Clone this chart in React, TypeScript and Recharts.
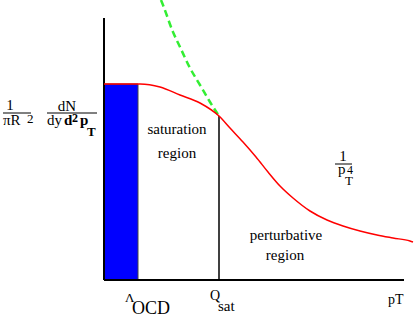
import { LineChart, Line, XAxis, YAxis, ReferenceLine, ReferenceArea } from "recharts";

// spectrum curve (x in plot units, y in plot units)
const spectrumX = [0, 16, 36, 56, 76, 96, 115, 126, 139, 152, 164, 176, 189, 206, 223, 239, 256, 273, 289, 306, 309];
const spectrumY = [196, 196, 196, 193, 185, 177, 164, 152, 138, 123, 108, 94, 82, 69, 60, 54, 49, 45, 42, 39, 38];

// 1/p_T^4 extrapolation
const powerX = [57, 59, 69, 76, 86, 96, 106, 115];
const powerY = [280, 275, 248, 233, 212, 195, 178, 164];

const lambdaQcd = 34;
const qSat = 115;
const axisEnd = 300;
const axisTop = 262;

const spectrum = spectrumX.map((x, i) => ({ x, y: spectrumY[i] }));
const power = powerX.map((x, i) => ({ x, y: powerY[i] }));

const serif = "'Liberation Serif', 'DejaVu Serif', serif";

function T({ x, y, size = 15, bold = false, anchor = "start", children }: any) {
  return (
    <text
      x={x}
      y={y}
      textAnchor={anchor}
      style={{ fontFamily: serif, fontSize: size, fontWeight: bold ? "bold" : "normal" }}
      fill="#000"
    >
      {children}
    </text>
  );
}

function Labels() {
  return (
    <svg
      width={415}
      height={322}
      style={{ position: "absolute", left: 0, top: 0, pointerEvents: "none" }}
    >
      {/* 1 / piR^2 */}
      <T x={10} y={110} anchor="middle">1</T>
      <line x1={3} x2={31} y1={113} y2={113} stroke="#000" strokeWidth={1} />
      <T x={3} y={125}>πR</T>
      <T x={27} y={123} size={13}>2</T>

      {/* dN / dy d2pT */}
      <T x={67} y={111} anchor="middle">dN</T>
      <line x1={47} x2={97} y1={113} y2={113} stroke="#000" strokeWidth={1} />
      <T x={47} y={125}>dy</T>
      <T x={64} y={125} bold>d</T>
      <T x={72} y={122} size={12} bold>2</T>
      <T x={80} y={125} bold>p</T>
      <T x={87} y={136} size={13} bold>T</T>

      <T x={177} y={134} anchor="middle">saturation</T>
      <T x={177} y={158} anchor="middle">region</T>

      <T x={286} y={240} anchor="middle">perturbative</T>
      <T x={285} y={260} anchor="middle">region</T>

      {/* 1 / pT^4 */}
      <T x={343} y={161} anchor="middle">1</T>
      <line x1={335} x2={352} y1={164} y2={164} stroke="#000" strokeWidth={1} />
      <T x={338} y={174}>p</T>
      <T x={347} y={174} size={12}>4</T>
      <T x={345} y={185} size={13}>T</T>

      {/* x labels */}
      <T x={125} y={302} size={13}>Λ</T>
      <T x={132} y={314} size={18}>OCD</T>
      <T x={210} y={300} size={14}>Q</T>
      <T x={218} y={311} size={15}>sat</T>
      <T x={388} y={304} size={14}>pT</T>
    </svg>
  );
}

export default function App() {
  return (
    <div style={{ position: "absolute", left: 0, top: 0, width: 415, height: 322, background: "#fff" }}>
      <LineChart width={415} height={322} margin={{ top: 0, right: 1, bottom: 42, left: 104 }}>
        <XAxis type="number" dataKey="x" domain={[0, 310]} hide />
        <YAxis type="number" dataKey="y" domain={[0, 280]} hide />
        <ReferenceArea
          x1={0}
          x2={lambdaQcd}
          y1={0}
          y2={spectrumY[0]}
          fill="#0000ff"
          fillOpacity={1}
          stroke="#444"
          strokeWidth={1}
        />
        <ReferenceLine segment={[{ x: qSat, y: 0 }, { x: qSat, y: powerY[powerY.length - 1] }]} stroke="#000" strokeWidth={1.5} />
        <ReferenceLine segment={[{ x: 0, y: 0 }, { x: 0, y: axisTop }]} stroke="#000" strokeWidth={2} />
        <ReferenceLine segment={[{ x: 0, y: 0 }, { x: axisEnd, y: 0 }]} stroke="#000" strokeWidth={2} />
        <Line
          data={power}
          dataKey="y"
          type="monotone"
          stroke="#33ee33"
          strokeWidth={2.5}
          strokeDasharray="7 4"
          dot={false}
          isAnimationActive={false}
        />
        <Line
          data={spectrum}
          dataKey="y"
          type="monotone"
          stroke="#ff0000"
          strokeWidth={1.5}
          dot={false}
          isAnimationActive={false}
        />
      </LineChart>
      <Labels />
    </div>
  );
}
